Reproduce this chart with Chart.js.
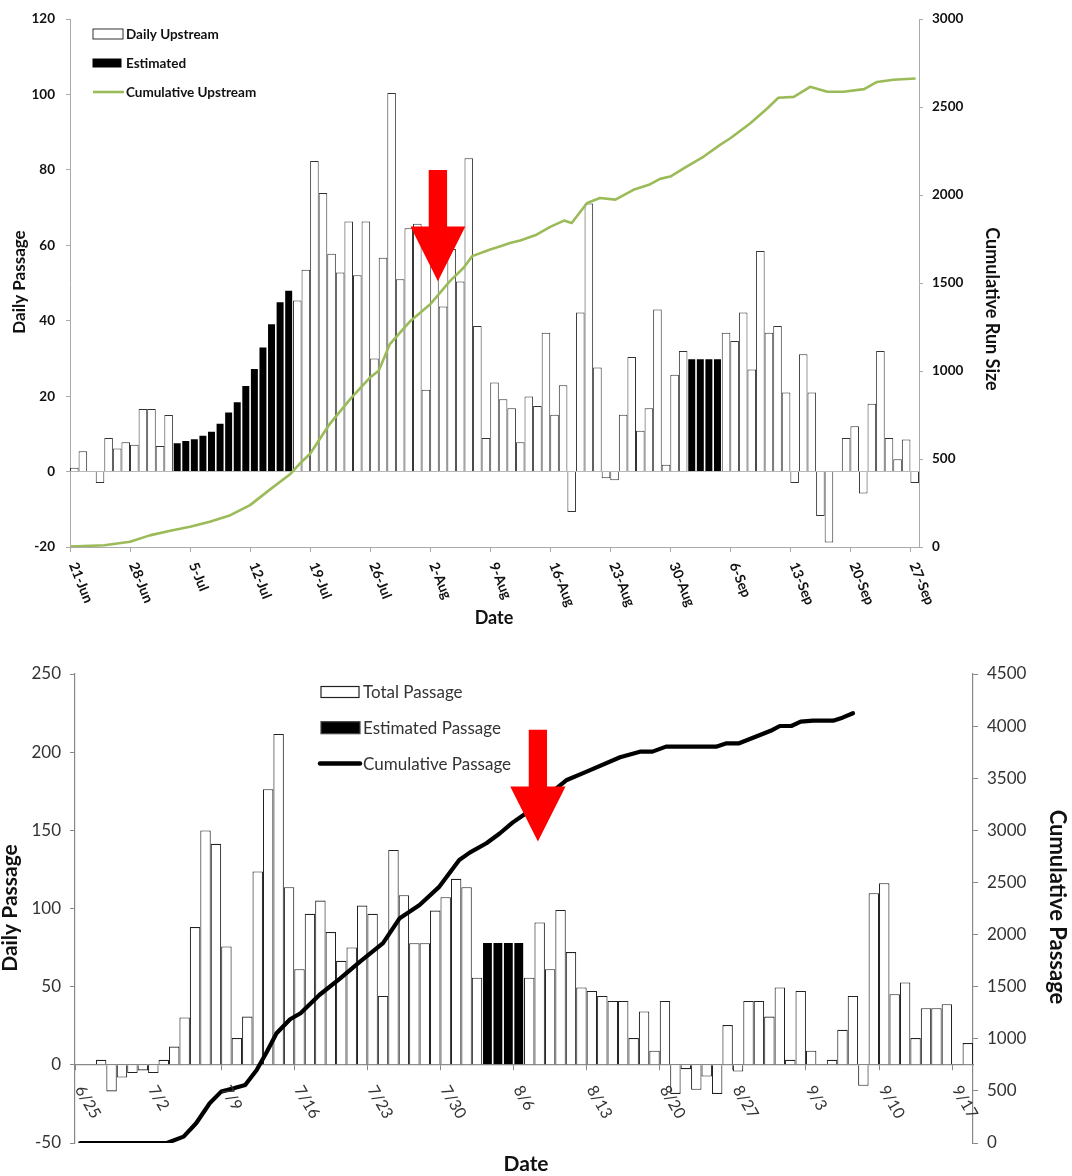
<!DOCTYPE html>
<html>
<head>
<meta charset="utf-8">
<script src="https://cdn.jsdelivr.net/npm/chart.js@4.4.1/dist/chart.umd.min.js"></script>
<style>
  html, body { margin: 0; padding: 0; background: #ffffff; }
  #wrap { width: 1072px; height: 1176px; position: relative; overflow: hidden; }
  canvas { display: block; }
</style>
</head>
<body>
<div id="wrap">
  <canvas id="top" width="1072" height="640"></canvas>
  <canvas id="bottom" width="1072" height="536"></canvas>
</div>
<script>
// ---------------- TOP CHART DATA (day 0 = 21-Jun) ----------------
const topTickLabels = ['21-Jun','28-Jun','5-Jul','12-Jul','19-Jul','26-Jul','2-Aug','9-Aug','16-Aug','23-Aug','30-Aug','6-Sep','13-Sep','20-Sep','27-Sep'];
// daily upstream counts, one per day (null = estimated day)
const topDaily = [
  1, 5.4, 0, -3, 8.9, 6.1, 7.8, 7.1, 16.6, 16.6, 6.8, 15,
  null, null, null, null, null, null, null, null, null, null, null, null, null, null,
  45.4, 53.5, 82.4, 73.9, 57.8, 52.8, 66.3, 52.1, 66.3, 30, 56.7, 100.4, 51, 64.5, 65.7, 21.7,
  58, 43.8, 59, 50.4, 83.1, 38.6, 8.9, 23.6, 19.2, 16.8, 7.8, 19.9, 17.4, 36.8, 15.1, 22.9,
  -10.7, 42.2, 71.1, 27.6, -1.8, -2.3, 15.1, 30.4, 10.8, 16.8, 43, 1.8, 25.7, 32,
  null, null, null, null,
  36.8, 34.6, 42.2, 27.1, 58.5, 36.8, 38.6, 21, -3, 31.1, 21, -11.8, -18.8, 0,
  8.9, 12, -5.8, 18, 32, 8.9, 3.3, 8.5, -3
];
// estimated counts, one per day (null = counted day)
const topEstimated = [
  null, null, null, null, null, null, null, null, null, null, null, null,
  7.7, 8.3, 8.8, 9.7, 10.8, 12.9, 15.9, 18.6, 22.9, 27.4, 33.1, 39.3, 45.1, 48.2,
  null, null, null, null, null, null, null, null, null, null, null, null, null, null, null, null,
  null, null, null, null, null, null, null, null, null, null, null, null, null, null, null, null,
  null, null, null, null, null, null, null, null, null, null, null, null, null, null,
  30, 30, 30, 30,
  null, null, null, null, null, null, null, null, null, null, null, null, null, null,
  null, null, null, null, null, null, null, null, null
];
// cumulative upstream curve (day position, run size)
const topCumDays = [0, 4, 7, 9.3, 11.7, 14, 16.3, 18.7, 21, 23.3, 25.7, 26.8, 28, 30.3, 32.7, 35, 36, 37.3, 39.7, 42, 44.3, 45.9, 46.9, 49, 50.2, 51.3, 52.5, 54.4, 56, 57.6, 58.5, 60.3, 61.8, 63.6, 65.7, 67.5, 68.8, 70, 71.9, 73.9, 75.8, 77, 79.3, 81.3, 82.6, 84.4, 86.3, 88.3, 90.2, 92.6, 94.1, 96, 98.6];
const topCumValues = [2, 10, 30, 66, 92, 115, 143, 181, 238, 326, 415, 474, 530, 700, 842, 964, 1002, 1153, 1285, 1379, 1511, 1587, 1653, 1691, 1709, 1728, 1742, 1775, 1819, 1855, 1841, 1955, 1983, 1974, 2030, 2058, 2092, 2105, 2162, 2219, 2285, 2323, 2407, 2492, 2553, 2558, 2615, 2587, 2587, 2602, 2643, 2655, 2662];

// ---------------- BOTTOM CHART DATA (day 0 = 6/25) ----------------
const bottomTickLabels = ['6/25','7/2','7/9','7/16','7/23','7/30','8/6','8/13','8/20','8/27','9/3','9/10','9/17'];
const bottomTotal = [
  0, 0, 3.2, -17, -8.1, -5.3, -3.6, -5.3, 3.2, 11.7, 30.3, 88.1, 149.9, 141.4, 75.7, 17.1,
  30.9, 123.7, 176.3, 211.7, 113.6, 61.2, 96.6, 105.1, 84.9, 66.5, 75.1, 101.9, 96.6, 44.1,
  137.5, 108.5, 77.8, 77.8, 98.7, 107.2, 119, 113.6, 55.7,
  null, null, null, null,
  55.7, 91.1, 61.2, 99.1, 72.1, 49.5, 47.3, 44.1, 40.9, 40.9, 17.1, 34.1, 9, 40.9,
  -18.6, -2.8, -16, -7.5, -18.6, 25.4, -4.3, 40.9, 40.9, 30.9, 49.5, 3.2, 47.3, 9, 0,
  3.2, 22.4, 44.1, -13.4, 109.8, 116.2, 45.2, 52.7, 17.1, 36.2, 36.2, 38.8, 0, 13.9
];
const bottomEstimated = [
  null, null, null, null, null, null, null, null, null, null, null, null, null, null, null, null,
  null, null, null, null, null, null, null, null, null, null, null, null, null, null,
  null, null, null, null, null, null, null, null, null,
  78.5, 78.5, 78.5, 78.5,
  null, null, null, null, null, null, null, null, null, null, null, null, null, null,
  null, null, null, null, null, null, null, null, null, null, null, null, null, null, null,
  null, null, null, null, null, null, null, null, null, null, null, null, null, null
];
const bottomCumDays = [0.5, 8.8, 10.4, 11.6, 12.9, 14, 15.2, 16.3, 17.4, 18.3, 19.3, 20.6, 21.6, 23.4, 25.4, 27.3, 29.5, 31.1, 33, 34.9, 36.8, 37.8, 39.4, 40.7, 41.9, 43.2, 47.1, 49, 52.2, 54.1, 55.3, 56.6, 61.4, 62.4, 63.6, 65.6, 66.8, 67.5, 68.6, 69.5, 70.7, 72.6, 73.5, 74.5];
const bottomCumValues = [0, 0, 61, 189, 381, 493, 525, 557, 700, 861, 1053, 1187, 1245, 1420, 1580, 1740, 1917, 2157, 2284, 2460, 2716, 2786, 2876, 2972, 3074, 3164, 3483, 3563, 3701, 3755, 3755, 3803, 3803, 3835, 3835, 3915, 3963, 4001, 4001, 4043, 4052, 4052, 4081, 4123];

// ---------------- helpers ----------------
function toBars(arr) {
  const out = [];
  arr.forEach((v, i) => { if (v !== null) out.push({ x: i + 0.5, y: v }); });
  return out;
}
function toLine(xs, ys) { return xs.map((x, i) => ({ x: x, y: ys[i] })); }

function decorPlugin(cfg) {
  return {
    id: 'decor',
    afterDatasetsDraw(chart) {
      const ctx = chart.ctx;
      const xs = chart.scales.x, ys = chart.scales.y;
      const X = v => xs.getPixelForValue(v), Y = v => ys.getPixelForValue(v);
      ctx.save();
      // rotated x tick labels
      ctx.fillStyle = cfg.tickColor;
      ctx.font = cfg.tickFont;
      ctx.textAlign = 'left';
      ctx.textBaseline = 'middle';
      const yAnchor = cfg.tickAnchorY(chart);
      xs.ticks.forEach((t, i) => {
        const lbl = cfg.tickLabels[i];
        if (lbl === undefined) return;
        ctx.save();
        ctx.translate(X(t.value) + cfg.tickDx, yAnchor);
        ctx.rotate(cfg.tickAngle * Math.PI / 180);
        ctx.fillText(lbl, 0, 0);
        ctx.restore();
      });
      // red arrow annotation (in data units)
      const a = cfg.arrow;
      ctx.fillStyle = '#ff0000';
      ctx.beginPath();
      ctx.moveTo(X(a.x - a.shaft), Y(a.top));
      ctx.lineTo(X(a.x + a.shaft), Y(a.top));
      ctx.lineTo(X(a.x + a.shaft), Y(a.base));
      ctx.lineTo(X(a.x + a.head), Y(a.base));
      ctx.lineTo(X(a.x), Y(a.tip));
      ctx.lineTo(X(a.x - a.head), Y(a.base));
      ctx.lineTo(X(a.x - a.shaft), Y(a.base));
      ctx.closePath();
      ctx.fill();
      // axis titles
      cfg.titles.forEach(tt => {
        ctx.save();
        ctx.font = tt.font;
        ctx.fillStyle = tt.color;
        ctx.textAlign = 'center';
        ctx.textBaseline = 'middle';
        ctx.translate(tt.x, tt.y);
        ctx.rotate(tt.rot * Math.PI / 180);
        ctx.fillText(tt.text, 0, 0);
        ctx.restore();
      });
      // legend
      const L = cfg.legend;
      chart.data.datasets.forEach((ds, i) => {
        const it = L.items[i];
        const cy = L.y0 + i * L.dy;
        if (it.kind === 'box') {
          ctx.fillStyle = it.fill;
          ctx.fillRect(L.x, cy - it.h / 2, it.w, it.h);
          ctx.lineWidth = it.lw;
          ctx.strokeStyle = it.stroke;
          ctx.strokeRect(L.x, cy - it.h / 2, it.w, it.h);
        } else {
          ctx.strokeStyle = it.stroke;
          ctx.lineWidth = it.lw;
          ctx.lineCap = it.cap;
          ctx.beginPath();
          ctx.moveTo(L.x + it.dx0, cy);
          ctx.lineTo(L.x + it.dx1, cy);
          ctx.stroke();
        }
        ctx.fillStyle = L.color;
        ctx.font = L.font;
        ctx.textAlign = 'left';
        ctx.textBaseline = 'middle';
        ctx.fillText(ds.label, L.textX, cy + 1);
      });
      ctx.restore();
    }
  };
}

// ---------------- TOP CHART ----------------
const topFont = 'Lato';
new Chart(document.getElementById('top'), {
  data: {
    datasets: [
      { type: 'bar', label: 'Daily Upstream', data: toBars(topDaily), backgroundColor: '#ffffff',
        borderColor: '#333333', borderWidth: 1, grouped: false, inflateAmount: 0, order: 2,
        barPercentage: 1, categoryPercentage: 1, yAxisID: 'y' },
      { type: 'bar', label: 'Estimated', data: toBars(topEstimated), backgroundColor: '#000000',
        borderColor: '#ffffff', borderWidth: 0.8, grouped: false, inflateAmount: 0, order: 2,
        barPercentage: 1, categoryPercentage: 1, yAxisID: 'y' },
      { type: 'line', label: 'Cumulative Upstream', data: toLine(topCumDays, topCumValues),
        borderColor: '#9bbb59', borderWidth: 2.6, pointRadius: 0, tension: 0, order: 1,
        borderJoinStyle: 'round', yAxisID: 'y1' }
    ]
  },
  options: {
    responsive: false, animation: false, devicePixelRatio: 1,
    layout: { padding: { left: 0, right: 0, top: 17, bottom: 0 } },
    plugins: { legend: { display: false }, tooltip: { enabled: false } },
    scales: {
      x: {
        type: 'linear', position: 'bottom', min: 0, max: 99, offset: false,
        afterBuildTicks: s => { s.ticks = topTickLabels.map((_, i) => ({ value: i * 7 })); },
        afterFit: s => { s.height = 93; },
        ticks: { display: false },
        grid: { offset: false, drawOnChartArea: false, drawTicks: true, tickLength: 5, tickColor: '#aaaaaa' },
        border: { color: '#aaaaaa' }
      },
      y: {
        position: 'left', min: -20, max: 120,
        afterFit: s => { s.width = 70; },
        ticks: { stepSize: 20, padding: 11, color: '#111111', font: { family: topFont, weight: 'bold', size: 13.5 } },
        grid: { color: c => (c.tick && c.tick.value === 0 ? '#b8b8b8' : 'rgba(0,0,0,0)'), tickColor: '#aaaaaa', tickLength: 4 },
        border: { color: '#aaaaaa' }
      },
      y1: {
        position: 'right', min: 0, max: 3000,
        afterFit: s => { s.width = 153; },
        ticks: { stepSize: 500, padding: 9, color: '#111111', font: { family: topFont, weight: 'bold', size: 13.5 }, callback: v => String(v) },
        grid: { drawOnChartArea: false, tickColor: '#aaaaaa', tickLength: 4 },
        border: { color: '#aaaaaa' }
      }
    }
  },
  plugins: [decorPlugin({
    tickLabels: topTickLabels, tickColor: '#111111', tickFont: 'bold 14px Lato', tickAngle: 68, tickDx: 3,
    tickAnchorY: ch => ch.chartArea.bottom + 16,
    arrow: { x: 42.9, shaft: 1.07, head: 3.2, top: 80, base: 65, tip: 50.5 },
    titles: [
      { text: 'Daily Passage', x: 20, y: 282, rot: -90, font: 'bold 17px Lato', color: '#111111' },
      { text: 'Cumulative Run Size', x: 992, y: 309, rot: 90, font: 'bold 18px Lato', color: '#111111' },
      { text: 'Date', x: 494, y: 618, rot: 0, font: 'bold 18px Lato', color: '#111111' }
    ],
    legend: {
      x: 93, textX: 126, y0: 34, dy: 29, font: 'bold 13.5px Lato', color: '#111111',
      items: [
        { kind: 'box', fill: '#ffffff', stroke: '#333333', lw: 1, w: 30, h: 10 },
        { kind: 'box', fill: '#000000', stroke: '#000000', lw: 1, w: 28, h: 8 },
        { kind: 'line', stroke: '#9bbb59', lw: 2.6, cap: 'butt', dx0: 0, dx1: 31 }
      ]
    }
  })]
});

// ---------------- BOTTOM CHART ----------------
new Chart(document.getElementById('bottom'), {
  data: {
    datasets: [
      { type: 'bar', label: 'Total Passage', data: toBars(bottomTotal), backgroundColor: '#ffffff',
        borderColor: '#222222', borderWidth: 1.1, grouped: false, inflateAmount: 0, order: 2,
        barPercentage: 1, categoryPercentage: 1, yAxisID: 'y' },
      { type: 'bar', label: 'Estimated Passage', data: toBars(bottomEstimated), backgroundColor: '#000000',
        borderColor: '#ffffff', borderWidth: 0.8, grouped: false, inflateAmount: 0, order: 2,
        barPercentage: 1, categoryPercentage: 1, yAxisID: 'y' },
      { type: 'line', label: 'Cumulative Passage', data: toLine(bottomCumDays, bottomCumValues),
        borderColor: '#000000', borderWidth: 4.2, pointRadius: 0, tension: 0, order: 1,
        borderJoinStyle: 'round', borderCapStyle: 'round', yAxisID: 'y1' }
    ]
  },
  options: {
    responsive: false, animation: false, devicePixelRatio: 1,
    layout: { padding: { left: 0, right: 0, top: 34, bottom: 33 } },
    plugins: { legend: { display: false }, tooltip: { enabled: false } },
    scales: {
      x: {
        type: 'linear', position: { y: 0 }, min: 0, max: 86, offset: false,
        afterBuildTicks: s => { s.ticks = bottomTickLabels.map((_, i) => ({ value: i * 7 })); },
        ticks: { display: false },
        grid: { offset: false, drawOnChartArea: false, drawTicks: true, tickLength: 5, tickColor: '#888888' },
        border: { color: '#888888', width: 1.2 }
      },
      y: {
        position: 'left', min: -50, max: 250,
        afterFit: s => { s.width = 75; },
        ticks: { stepSize: 50, padding: 9, color: '#333333', font: { family: 'Lato', size: 17 } },
        grid: { drawOnChartArea: false, tickColor: '#888888', tickLength: 5 },
        border: { color: '#888888', width: 1.2 }
      },
      y1: {
        position: 'right', min: 0, max: 4500,
        afterFit: s => { s.width = 99; },
        ticks: { stepSize: 500, padding: 9, color: '#333333', font: { family: 'Lato', size: 17 }, callback: v => String(v) },
        grid: { drawOnChartArea: false, tickColor: '#888888', tickLength: 5 },
        border: { color: '#888888', width: 1.2 }
      }
    }
  },
  plugins: [decorPlugin({
    tickLabels: bottomTickLabels, tickColor: '#333333', tickFont: '16px Lato', tickAngle: 60, tickDx: 4,
    tickAnchorY: ch => ch.scales.y.getPixelForValue(0) + 22,
    arrow: { x: 44.33, shaft: 0.875, head: 2.65, top: 214.3, base: 178, tip: 142.8 },
    titles: [
      { text: 'Daily Passage', x: 10, y: 268, rot: -90, font: 'bold 21px Lato', color: '#111111' },
      { text: 'Cumulative Passage', x: 1057, y: 267, rot: 90, font: 'bold 22px Lato', color: '#111111' },
      { text: 'Date', x: 526, y: 524, rot: 0, font: 'bold 21px Lato', color: '#111111' }
    ],
    legend: {
      x: 321, textX: 363, y0: 52, dy: 35.7, font: '17px Lato', color: '#333333',
      items: [
        { kind: 'box', fill: '#ffffff', stroke: '#222222', lw: 1.2, w: 38, h: 11 },
        { kind: 'box', fill: '#000000', stroke: '#444444', lw: 1.2, w: 39, h: 12 },
        { kind: 'line', stroke: '#000000', lw: 4.5, cap: 'round', dx0: -1, dx1: 39 }
      ]
    }
  })]
});
</script>
</body>
</html>
